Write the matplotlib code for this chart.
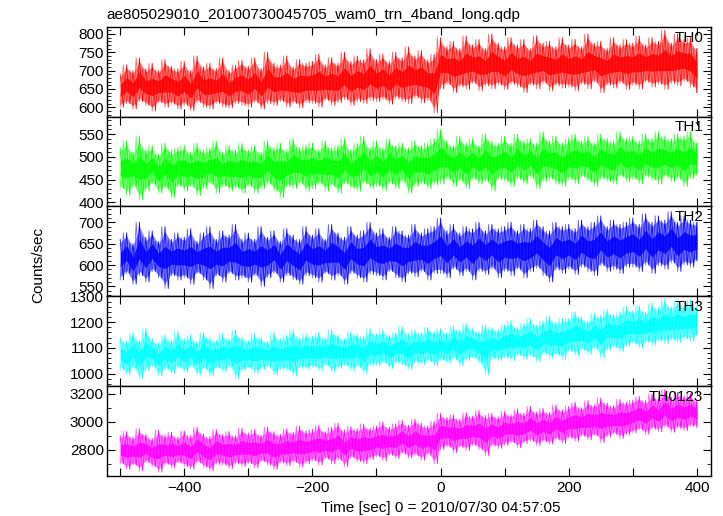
import numpy as np
import matplotlib
matplotlib.use('Agg')
import matplotlib.pyplot as plt
from matplotlib.ticker import MultipleLocator, FixedLocator

plt.rcParams['font.family'] = ['Liberation Sans', 'DejaVu Sans']

# time bins (sec), local peaks (hi) and dips (lo) of each light curve, read every 10 s
t = np.arange(-500, 401, 10)

th0_hi = [690, 715, 700, 735, 705, 720, 700, 730, 712, 705,
          725, 700, 740, 710, 720, 705, 735, 700, 715, 728,
          712, 735, 705, 750, 720, 715, 740, 710, 730, 720,
          725, 745, 715, 735, 720, 750, 725, 740, 730, 760,
          730, 745, 725, 750, 735, 765, 740, 755, 730, 745,
          790, 765, 780, 760, 795, 770, 785, 760, 800, 775,
          765, 790, 770, 785, 760, 795, 775, 780, 765, 790,
          770, 785, 765, 800, 775, 780, 760, 790, 770, 785,
          775, 795, 770, 790, 780, 810, 775, 800, 785, 790, 760]
th0_lo = [600, 610, 595, 615, 605, 590, 612, 600, 608, 595,
          605, 590, 612, 600, 595, 610, 600, 598, 610, 605,
          600, 612, 595, 610, 605, 615, 600, 610, 598, 612,
          610, 600, 618, 605, 612, 620, 605, 615, 610, 618,
          615, 620, 608, 622, 615, 610, 625, 612, 618, 585,
          650, 662, 640, 655, 648, 665, 645, 658, 650, 660,
          648, 662, 655, 640, 660, 650, 665, 645, 658, 652,
          655, 645, 662, 650, 668, 640, 660, 652, 665, 648,
          660, 650, 668, 655, 662, 648, 665, 658, 670, 655, 640]

th1_hi = [520, 535, 510, 545, 515, 525, 505, 530, 515, 520,
          525, 510, 530, 515, 520, 535, 510, 525, 515, 530,
          515, 525, 510, 535, 520, 530, 515, 540, 520, 525,
          530, 515, 535, 520, 525, 540, 515, 530, 545, 520,
          535, 520, 540, 525, 530, 520, 535, 525, 530, 540,
          560, 535, 525, 545, 530, 540, 525, 550, 535, 530,
          545, 530, 550, 535, 540, 530, 555, 535, 545, 530,
          540, 550, 535, 545, 530, 550, 540, 535, 555, 540,
          545, 535, 550, 540, 555, 545, 540, 550, 545, 555, 530]
th1_lo = [430, 415, 435, 405, 425, 440, 420, 430, 410, 435,
          425, 435, 415, 430, 440, 420, 435, 425, 430, 420,
          435, 420, 430, 440, 425, 410, 435, 430, 440, 425,
          430, 440, 425, 435, 420, 440, 430, 425, 440, 430,
          435, 425, 440, 430, 445, 420, 435, 440, 430, 438,
          440, 450, 435, 445, 430, 450, 440, 445, 425, 450,
          445, 435, 450, 440, 455, 430, 445, 450, 440, 435,
          450, 440, 455, 445, 435, 450, 445, 440, 455, 445,
          450, 440, 455, 448, 440, 455, 445, 450, 435, 452, 460]

th2_hi = [660, 675, 650, 700, 665, 680, 655, 690, 660, 675,
          665, 685, 655, 675, 690, 660, 680, 670, 695, 660,
          675, 660, 690, 665, 680, 655, 685, 670, 660, 690,
          670, 685, 660, 695, 675, 665, 690, 670, 680, 700,
          675, 685, 665, 690, 680, 670, 695, 675, 685, 690,
          710, 680, 695, 675, 690, 685, 700, 680, 695, 685,
          690, 700, 680, 695, 685, 705, 690, 680, 700, 690,
          695, 685, 705, 690, 700, 715, 690, 705, 695, 700,
          710, 695, 720, 700, 715, 705, 725, 700, 715, 705, 700]
th2_lo = [565, 580, 555, 575, 560, 585, 570, 545, 575, 565,
          570, 555, 580, 565, 545, 575, 560, 580, 565, 570,
          560, 575, 550, 570, 580, 560, 575, 565, 555, 575,
          570, 560, 580, 565, 575, 555, 580, 570, 560, 578,
          575, 565, 585, 570, 560, 580, 572, 585, 565, 580,
          580, 570, 590, 575, 585, 565, 585, 578, 590, 570,
          585, 575, 590, 570, 585, 592, 575, 560, 588, 580,
          590, 578, 595, 585, 575, 598, 585, 590, 580, 595,
          595, 585, 600, 580, 598, 590, 605, 585, 600, 595, 610]

th3_hi = [1140, 1125, 1160, 1130, 1175, 1135, 1120, 1150, 1130, 1165,
          1135, 1150, 1125, 1160, 1140, 1130, 1155, 1135, 1170, 1140,
          1130, 1155, 1140, 1125, 1160, 1135, 1150, 1170, 1140, 1155,
          1145, 1160, 1140, 1170, 1150, 1135, 1165, 1155, 1145, 1175,
          1155, 1170, 1150, 1160, 1185, 1155, 1170, 1160, 1180, 1165,
          1175, 1160, 1185, 1170, 1195, 1175, 1165, 1190, 1180, 1170,
          1190, 1205, 1180, 1195, 1215, 1190, 1205, 1225, 1200, 1215,
          1215, 1240, 1220, 1205, 1235, 1225, 1250, 1230, 1240, 1260,
          1245, 1265, 1240, 1275, 1255, 1290, 1260, 1285, 1265, 1285, 1260]
th3_lo = [1015, 995, 1020, 980, 1010, 1025, 990, 1015, 1000, 1020,
          1005, 1025, 995, 1015, 990, 1020, 1005, 1025, 980, 1010,
          1020, 1000, 1015, 1025, 995, 1015, 1010, 990, 1020, 1015,
          1025, 1010, 1030, 1005, 1020, 1030, 1010, 1025, 1000, 1030,
          1030, 1040, 1020, 1040, 1030, 1015, 1040, 1035, 1045, 1030,
          1050, 1040, 1055, 1030, 1050, 1060, 1040, 995, 1055, 1050,
          1060, 1050, 1070, 1055, 1065, 1045, 1075, 1060, 1070, 1055,
          1085, 1070, 1090, 1075, 1095, 1060, 1090, 1100, 1085, 1105,
          1115, 1100, 1120, 1110, 1125, 1115, 1130, 1120, 1135, 1125, 1150]

th0123_hi = [2900, 2930, 2890, 2950, 2910, 2880, 2940, 2905, 2925, 2890,
             2935, 2900, 2960, 2915, 2895, 2945, 2910, 2930, 2900, 2955,
             2920, 2945, 2905, 2960, 2930, 2910, 2950, 2925, 2970, 2935,
             2945, 2975, 2930, 2960, 2990, 2940, 2965, 2950, 2985, 2955,
             2970, 3000, 2960, 2985, 3010, 2975, 3020, 2990, 2970, 3005,
             3060, 3030, 3050, 3020, 3065, 3040, 3080, 3045, 3060, 3035,
             3075, 3050, 3090, 3060, 3110, 3070, 3095, 3065, 3120, 3085,
             3110, 3140, 3100, 3150, 3120, 3170, 3135, 3115, 3160, 3140,
             3155, 3180, 3150, 3200, 3165, 3230, 3175, 3210, 3185, 3200, 3150]
th0123_lo = [2700, 2660, 2690, 2650, 2710, 2680, 2640, 2695, 2670, 2705,
             2680, 2660, 2705, 2675, 2650, 2695, 2690, 2665, 2700, 2680,
             2700, 2670, 2715, 2690, 2660, 2705, 2685, 2710, 2675, 2700,
             2720, 2690, 2735, 2700, 2725, 2680, 2740, 2715, 2700, 2730,
             2750, 2720, 2760, 2735, 2770, 2740, 2755, 2725, 2765, 2700,
             2800, 2820, 2780, 2815, 2795, 2830, 2800, 2760, 2825, 2810,
             2830, 2850, 2815, 2845, 2860, 2830, 2855, 2840, 2870, 2845,
             2880, 2860, 2895, 2870, 2900, 2850, 2890, 2910, 2880, 2905,
             2920, 2940, 2910, 2945, 2930, 2960, 2925, 2950, 2935, 2965, 2960]

names = ['TH0', 'TH1', 'TH2', 'TH3', 'TH0123']
highs = [th0_hi, th1_hi, th2_hi, th3_hi, th0123_hi]
lows = [th0_lo, th1_lo, th2_lo, th3_lo, th0123_lo]
colors = ['#ff0000', '#00ff00', '#0000ff', '#00ffff', '#ff00ff']
ylims = [(574, 819), (391, 588), (527, 737), (952, 1301), (2615, 3255)]
yticks = [[600, 650, 700, 750, 800], [400, 450, 500, 550], [550, 600, 650, 700],
          [1000, 1100, 1200, 1300], [2800, 3000, 3200]]
yminor = [10, 10, 10, 20, 100]

fig, axes = plt.subplots(5, 1, sharex=True, figsize=(7.23, 5.16), dpi=100)
fig.subplots_adjust(left=0.1476, right=0.9834, top=0.9477, bottom=0.0781, hspace=0)

for i, ax in enumerate(axes):
    hi = np.array(highs[i], dtype=float)
    lo = np.array(lows[i], dtype=float)
    span = hi - lo
    # light outer band and saturated core
    ax.fill_between(t, lo + 0.08 * span, hi - 0.08 * span, color=colors[i], alpha=0.5, lw=0)
    ax.fill_between(t, lo + 0.32 * span, hi - 0.32 * span, color=colors[i], alpha=0.85, lw=0)
    # peaks and dips joined both ways, so the band edges look spiky
    xa = np.empty(2 * len(t))
    ya = np.empty(2 * len(t))
    xa[0::2] = t
    xa[1::2] = np.minimum(t + 5, 400)
    ya[0::2] = hi
    ya[1::2] = lo
    yb = np.empty(2 * len(t))
    yb[0::2] = lo
    yb[1::2] = np.append(hi[1:], hi[-1])
    ax.plot(xa, ya, color=colors[i], lw=0.6, alpha=0.95)
    ax.plot(xa, yb, color=colors[i], lw=0.6, alpha=0.6)
    ax.set_ylim(*ylims[i])
    ax.set_xlim(-521, 422)
    ax.yaxis.set_major_locator(FixedLocator(yticks[i]))
    ax.yaxis.set_minor_locator(MultipleLocator(yminor[i]))
    ax.xaxis.set_major_locator(MultipleLocator(100))
    ax.tick_params(which='both', direction='in', top=True, right=True, labelsize=11)
    ax.tick_params(which='major', length=6, width=0.8)
    ax.tick_params(which='minor', length=3, width=0.6)
    ax.tick_params(axis='y', pad=2)
    for s in ax.spines.values():
        s.set_linewidth(1.0)
    ax.text(0.987, 0.96, names[i], transform=ax.transAxes, ha='right', va='top', fontsize=11)

axes[-1].xaxis.set_major_formatter(plt.FuncFormatter(lambda v, p: ('%d' % v).replace('-', '\u2212') if v % 200 == 0 else ''))

fig.text(0.1476, 0.971, 'ae805029010_20100730045705_wam0_trn_4band_long.qdp', ha='left', va='center', fontsize=11)
fig.text(0.053, 0.486, 'Counts/sec', rotation=90, ha='center', va='center', fontsize=11)
fig.text(441 / 723, 1 - 508 / 516, 'Time [sec] 0 = 2010/07/30 04:57:05', ha='center', va='center', fontsize=11)

fig.savefig('out.png', dpi=100)
